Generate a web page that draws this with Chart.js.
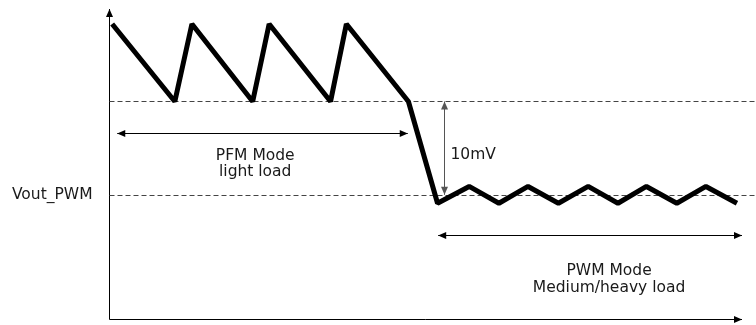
<!DOCTYPE html>
<html>
<head>
<meta charset="utf-8">
<title>PFM / PWM mode output ripple</title>
<script src="https://cdn.jsdelivr.net/npm/chart.js@4.4.0/dist/chart.umd.min.js"></script>
<style>
  html, body { margin: 0; padding: 0; background: #fff; }
  #wrap { width: 756px; height: 325px; }
</style>
</head>
<body>
<div id="wrap"><canvas id="chart" width="756" height="325"></canvas></div>
<script>
// --- data: time (arbitrary units) and Vout relative to Vout_PWM (mV) ---
const timeValues = [0.5, 10.4, 13.1, 22.7, 25.3, 35.0, 37.5, 47.3, 51.9, 56.9, 61.6, 66.2, 71.0, 75.7, 80.4, 84.9, 89.7, 94.3, 99.2];
const voutValues = [18.3, 10, 18.3, 10, 18.3, 10, 18.3, 10, -0.9, 0.9, -0.9, 0.9, -0.9, 0.9, -0.9, 0.9, -0.9, 0.9, -0.9];

const xRange = [0, 100];
const yRange = [-13.3, 19.8];

// reference levels (mV)
const levelValues = [10, 0];
const levelLabels = ['', 'Vout_PWM'];

// ripple marker: x position, label, label y (mV)
const rippleX = 52.9;
const rippleLabel = '10mV';
const rippleLabelY = 4.3;

// mode spans: [xStart, xEnd, arrowY] and label [x, line1 y, line2 y]
const pfmSpan = [1.3, 47.2, 6.64];
const pfmLabel = ['PFM Mode', 'light load'];
const pfmLabelPos = [23.1, 4.2, 2.4];
const pwmSpan = [52.0, 100, -4.28];
const pwmLabel = ['PWM Mode', 'Medium/heavy load'];
const pwmLabelPos = [79.0, -8.14, -9.93];

const FONT = '15.5px "DejaVu Sans", Verdana, sans-serif';

const points = timeValues.map((t, i) => ({ x: t, y: voutValues[i] }));

function arrowHead(ctx, x, y, angle, len, half) {
    ctx.save();
    ctx.translate(x, y);
    ctx.rotate(angle);
    ctx.beginPath();
    ctx.moveTo(0, 0);
    ctx.lineTo(-len, -half);
    ctx.lineTo(-len, half);
    ctx.closePath();
    ctx.fill();
    ctx.restore();
}

function arrowLine(ctx, x1, y1, x2, y2, both, color) {
    ctx.save();
    ctx.strokeStyle = color;
    ctx.fillStyle = color;
    ctx.lineWidth = 1;
    ctx.beginPath();
    ctx.moveTo(x1, y1);
    ctx.lineTo(x2, y2);
    ctx.stroke();
    const a = Math.atan2(y2 - y1, x2 - x1);
    arrowHead(ctx, x2, y2, a, 8, 3.5);
    if (both) arrowHead(ctx, x1, y1, a + Math.PI, 8, 3.5);
    ctx.restore();
}

const diagramPlugin = {
    id: 'diagram',
    beforeDatasetsDraw(chart) {
        const { ctx, scales: { x, y } } = chart;
        const x0 = Math.round(x.getPixelForValue(xRange[0])) + 0.5;
        const y0 = Math.round(y.getPixelForValue(yRange[0])) + 0.5;

        // axes
        arrowLine(ctx, x0, y0, x0, y.getPixelForValue(yRange[1]) - 1, false, '#000');
        arrowLine(ctx, x0, y0, x.getPixelForValue(xRange[1]), y0, false, '#000');

        // dashed reference levels
        ctx.save();
        ctx.strokeStyle = '#444';
        ctx.lineWidth = 1;
        ctx.setLineDash([5, 3]);
        levelValues.forEach(v => {
            const py = Math.round(y.getPixelForValue(v)) + 0.5;
            ctx.beginPath();
            ctx.moveTo(x0, py);
            ctx.lineTo(chart.width, py);
            ctx.stroke();
        });
        ctx.restore();

        ctx.save();
        ctx.font = FONT;
        ctx.fillStyle = '#1a1a1a';
        ctx.textBaseline = 'middle';
        ctx.textAlign = 'right';
        levelValues.forEach((v, i) => {
            if (levelLabels[i]) ctx.fillText(levelLabels[i], x0 - 17, y.getPixelForValue(v));
        });

        // 10mV ripple marker
        const rx = Math.round(x.getPixelForValue(rippleX)) + 0.5;
        arrowLine(ctx, rx, y.getPixelForValue(levelValues[1]), rx, y.getPixelForValue(levelValues[0]), true, '#555');
        ctx.textAlign = 'left';
        ctx.fillText(rippleLabel, rx + 6, y.getPixelForValue(rippleLabelY));

        // mode spans
        [[pfmSpan, pfmLabel, pfmLabelPos], [pwmSpan, pwmLabel, pwmLabelPos]].forEach(([span, label, pos]) => {
            const py = Math.round(y.getPixelForValue(span[2])) + 0.5;
            arrowLine(ctx, x.getPixelForValue(span[0]), py, x.getPixelForValue(span[1]), py, true, '#000');
            ctx.textAlign = 'center';
            ctx.fillText(label[0], x.getPixelForValue(pos[0]), y.getPixelForValue(pos[1]));
            ctx.fillText(label[1], x.getPixelForValue(pos[0]), y.getPixelForValue(pos[2]));
        });
        ctx.restore();
    }
};

new Chart(document.getElementById('chart'), {
    type: 'scatter',
    data: {
        datasets: [{
            data: points,
            showLine: true,
            borderColor: '#000',
            borderWidth: 5,
            borderJoinStyle: 'bevel',
            pointRadius: 0,
            tension: 0,
            clip: false
        }]
    },
    options: {
        responsive: false,
        animation: false,
        layout: { padding: { left: 109, right: 14, top: 10, bottom: 6 } },
        plugins: { legend: { display: false }, tooltip: { enabled: false } },
        scales: {
            x: { type: 'linear', min: xRange[0], max: xRange[1], display: false },
            y: { type: 'linear', min: yRange[0], max: yRange[1], display: false }
        }
    },
    plugins: [diagramPlugin]
});
</script>
</body>
</html>
